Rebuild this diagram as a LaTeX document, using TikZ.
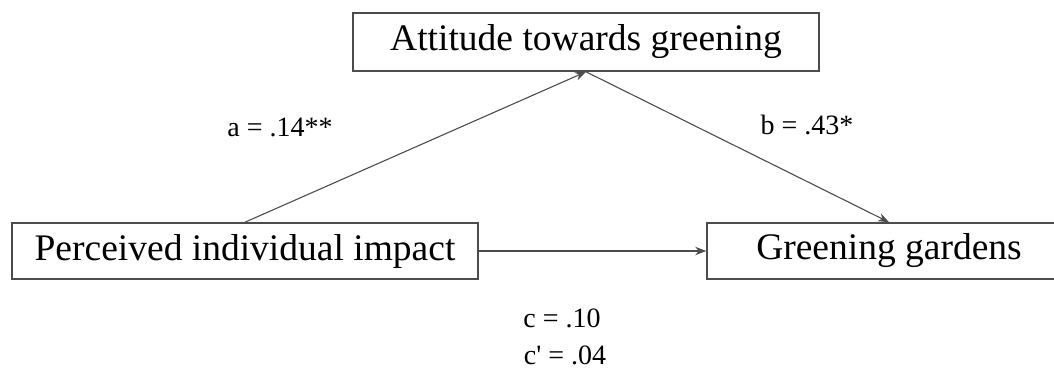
\documentclass[tikz,border=0pt]{standalone}
\usepackage{fontspec}
\setmainfont{Liberation Serif}
\usetikzlibrary{arrows.meta}
\begin{document}
\begin{tikzpicture}[x=0.5pt,y=-0.5pt,
  varbox/.style={draw=black!70,line width=0.8pt,inner sep=0pt,font=\fontsize{18.75}{22}\selectfont,fill=white},
  path/.style={draw=black!70,line width=0.55pt,-{Stealth[length=5.5pt,width=4.2pt]}},
  coef/.style={font=\fontsize{14}{17}\selectfont,inner sep=0pt}]
\useasboundingbox (0,0) rectangle (1054,369);
\node[varbox,minimum width=233pt,minimum height=29pt] (att) at (586,42) {Attitude towards greening};
\node[varbox,minimum width=233pt,minimum height=28pt] (pii) at (245,251) {Perceived individual impact};
\node[varbox,minimum width=182pt,minimum height=28pt] (gg) at (889,251) {Greening gardens};
\draw[path] (pii.north) -- (att.south);
\draw[path] (att.south) -- (gg.north);
\draw[path] (pii.east) -- (gg.west);
\node[coef] (a) at (280,127) {a = .14**};
\node[coef] (b) at (807,125) {b = .43*};
\node[coef] (c) at (562,318) {c = .10};
\node[coef] (cp) at (565,355) {c\textquotesingle{} = .04};
\end{tikzpicture}
\end{document}
